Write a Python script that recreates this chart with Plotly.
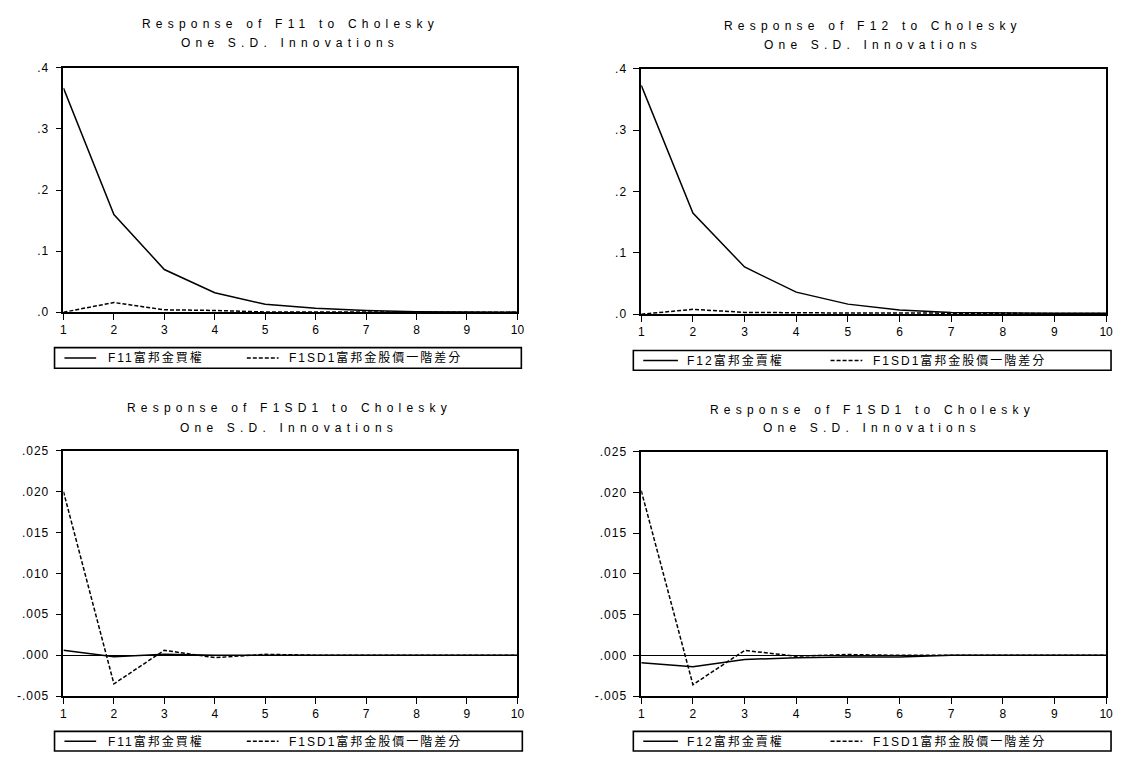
import plotly.graph_objects as go

W, H = 1123, 761

# ---------------- data ----------------
periods = [1, 2, 3, 4, 5, 6, 7, 8, 9, 10]
x_tick_labels = ["1", "2", "3", "4", "5", "6", "7", "8", "9", "10"]

# Response of F11
tl_f11 = [0.367, 0.160, 0.070, 0.032, 0.013, 0.0065, 0.003, 0.001, 0.0005, 0.0002]
tl_f1sd1 = [0.0, 0.016, 0.004, 0.003, 0.0005, 0.0003, 0.0002, 0.0001, 0.0001, 0.0]
# Response of F12
tr_f12 = [0.373, 0.165, 0.077, 0.036, 0.0165, 0.007, 0.003, 0.002, 0.0015, 0.0015]
tr_f1sd1 = [0.0, 0.008, 0.003, 0.002, 0.002, 0.002, 0.0015, 0.001, 0.001, 0.001]
# Response of F1SD1 (model with F11)
bl_f11 = [0.0006, -0.0002, 0.0001, 0.0, 0.0, 0.0, 0.0, 0.0, 0.0, 0.0]
bl_f1sd1 = [0.0200, -0.0035, 0.0006, -0.0003, 0.0001, 0.0, 0.0, 0.0, 0.0, 0.0]
# Response of F1SD1 (model with F12)
br_f12 = [-0.0009, -0.0014, -0.0005, -0.0003, -0.0002, -0.0002, 0.0, 0.0, 0.0, 0.0]
br_f1sd1 = [0.0202, -0.0036, 0.0006, -0.0001, 0.0001, 0.0, 0.0, 0.0, 0.0, 0.0]

top_y_vals = [0.0, 0.1, 0.2, 0.3, 0.4]
top_y_text = [".0", ".1", ".2", ".3", ".4"]
bot_y_vals = [-0.005, 0.0, 0.005, 0.010, 0.015, 0.020, 0.025]
bot_y_text = ["-.005", ".000", ".005", ".010", ".015", ".020", ".025"]

name_f11 = "F11富邦金買權"
name_f12 = "F12富邦金賣權"
name_sd = "F1SD1富邦金股價一階差分"

titles = [
    ("Response of F11 to Cholesky", "One S.D. Innovations"),
    ("Response of F12 to Cholesky", "One S.D. Innovations"),
    ("Response of F1SD1 to Cholesky", "One S.D. Innovations"),
    ("Response of F1SD1 to Cholesky", "One S.D. Innovations"),
]

FONT = "Liberation Sans, Arial, Noto Sans CJK TC, sans-serif"

# ---------------- layout geometry (pixels) ----------------
panels = [
    dict(box=(61, 519, 62, 311), series=(tl_f11, tl_f1sd1), names=(name_f11, name_sd),
         yvals=top_y_vals, ytext=top_y_text, yr=[0, 0.4], zero=False,
         title_x=290, title_y=(17, 37),
         leg=(52, 523, 347, 368), s1=(62, 94), t1=104, s2=(246, 278), t2=287),
    dict(box=(644, 1113, 63, 313), series=(tr_f12, tr_f1sd1), names=(name_f12, name_sd),
         yvals=top_y_vals, ytext=top_y_text, yr=[0, 0.4], zero=False,
         title_x=878, title_y=(19, 38.5),
         leg=(636, 1118, 350, 370), s1=(646, 681), t1=688, s2=(835, 867), t2=876),
    dict(box=(61, 519, 452, 702), series=(bl_f11, bl_f1sd1), names=(name_f11, name_sd),
         yvals=bot_y_vals, ytext=bot_y_text, yr=[-0.005, 0.025], zero=True,
         title_x=289, title_y=(408.5, 428.5),
         leg=(52, 524, 738, 758), s1=(62, 94), t1=104, s2=(246, 278), t2=287),
    dict(box=(644, 1113, 453, 702), series=(br_f12, br_f1sd1), names=(name_f12, name_sd),
         yvals=bot_y_vals, ytext=bot_y_text, yr=[-0.005, 0.025], zero=True,
         title_x=877, title_y=(411, 429),
         leg=(636, 1118, 738, 758), s1=(646, 681), t1=688, s2=(835, 867), t2=876),
]


def px(x):
    return x / W


def py(y):
    return 1 - y / H


def spaced(t, ls):
    return f"<span style='letter-spacing:{ls}px'>{t}</span>"


fig = go.Figure()
shapes = []
annotations = []
layout = dict(
    width=W, height=H,
    margin=dict(l=0, r=0, t=0, b=0),
    paper_bgcolor="white", plot_bgcolor="white",
    showlegend=False,
    font=dict(family=FONT, size=11, color="black"),
)

for i, p in enumerate(panels):
    n = i + 1
    xa = "x" if n == 1 else f"x{n}"
    ya = "y" if n == 1 else f"y{n}"
    x0, x1, y0, y1 = p["box"]
    s_solid, s_dash = p["series"]
    fig.add_trace(go.Scatter(x=periods, y=s_solid, mode="lines", name=p["names"][0],
                             line=dict(color="black", width=1.5),
                             xaxis=xa, yaxis=ya))
    fig.add_trace(go.Scatter(x=periods, y=s_dash, mode="lines", name=p["names"][1],
                             line=dict(color="black", width=1.5, dash="4px,2px"),
                             xaxis=xa, yaxis=ya))
    layout[f"xaxis{n if n > 1 else ''}"] = dict(
        domain=[px(x0), px(x1)], anchor=ya, range=[1, 10],
        tickvals=periods, ticktext=x_tick_labels,
        ticks="outside", ticklen=6, tickwidth=1.4, tickcolor="black",
        showline=True, linecolor="black", linewidth=1.6, mirror=True,
        showgrid=False, zeroline=False,
        tickfont=dict(family=FONT, size=12, color="black"),
    )
    layout[f"yaxis{n if n > 1 else ''}"] = dict(
        domain=[py(y1), py(y0)], anchor=xa, range=p["yr"],
        tickvals=p["yvals"], ticktext=[spaced(t, 1) for t in p["ytext"]],
        ticks="outside", ticklen=6, tickwidth=1.4, tickcolor="black",
        ticklabelstandoff=4,
        showline=True, linecolor="black", linewidth=1.6, mirror=True,
        showgrid=False,
        zeroline=p["zero"], zerolinecolor="black", zerolinewidth=1.3,
        tickfont=dict(family=FONT, size=12, color="black"),
    )
    # title (two lines)
    for line_txt, yy in zip(titles[i], p["title_y"]):
        annotations.append(dict(
            text=spaced(line_txt, 5.2), x=px(p["title_x"]), y=py(yy),
            xref="paper", yref="paper", xanchor="center", yanchor="middle",
            showarrow=False, font=dict(family=FONT, size=12, color="black"),
        ))
    # legend box
    lx0, lx1, ly0, ly1 = p["leg"]
    shapes.append(dict(type="rect", xref="paper", yref="paper",
                       x0=px(lx0), x1=px(lx1), y0=py(ly1), y1=py(ly0),
                       line=dict(color="black", width=1.6), fillcolor="rgba(0,0,0,0)"))
    ym = (ly0 + ly1) / 2
    shapes.append(dict(type="line", xref="paper", yref="paper",
                       x0=px(p["s1"][0]), x1=px(p["s1"][1]), y0=py(ym), y1=py(ym),
                       line=dict(color="black", width=1.5)))
    shapes.append(dict(type="line", xref="paper", yref="paper",
                       x0=px(p["s2"][0]), x1=px(p["s2"][1]), y0=py(ym), y1=py(ym),
                       line=dict(color="black", width=1.5, dash="4px,2px")))
    for nm, tx in ((p["names"][0], p["t1"]), (p["names"][1], p["t2"])):
        annotations.append(dict(
            text=spaced(nm, 2), x=px(tx), y=py(ym),
            xref="paper", yref="paper", xanchor="left", yanchor="middle",
            showarrow=False, font=dict(family=FONT, size=12, color="black"),
        ))

layout["shapes"] = shapes
layout["annotations"] = annotations
fig.update_layout(**layout)
fig.write_html(
    "out.html",
    config={"displayModeBar": False},
    post_script="document.body.style.margin='0';document.body.style.overflow='hidden';",
)
